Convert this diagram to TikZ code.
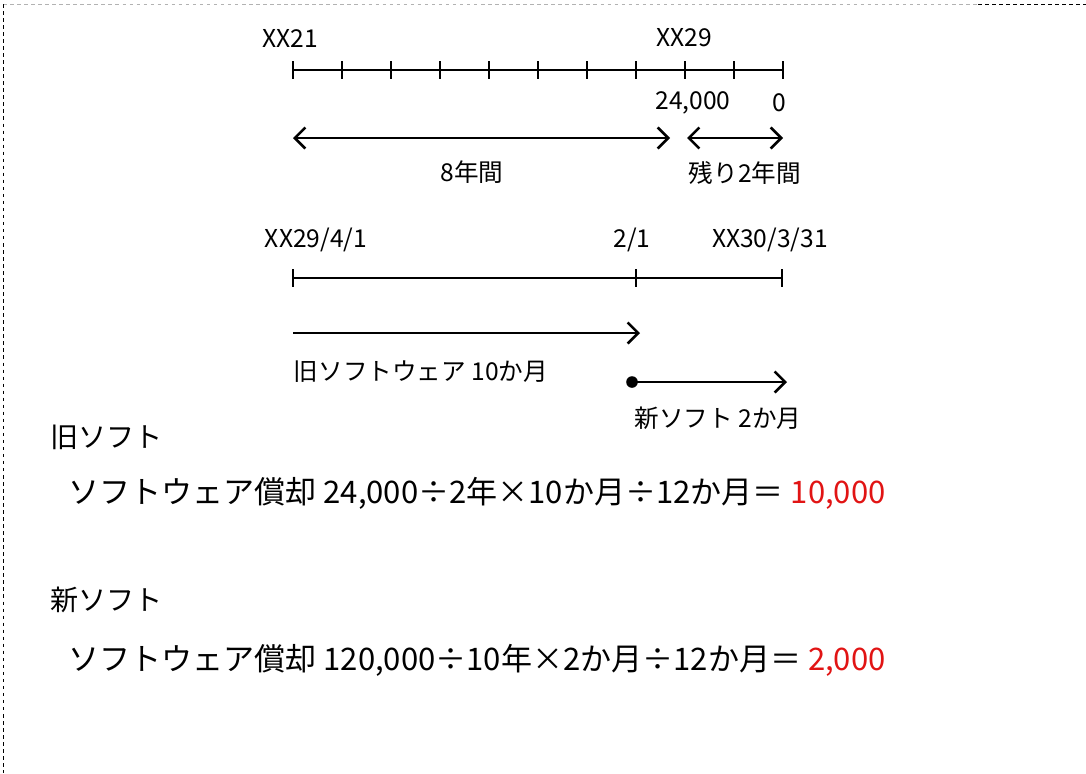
\documentclass[tikz,border=0pt]{standalone}
\usepackage{fontspec}
\setmainfont{Noto Sans CJK JP}
\usepackage{tikz}
\usetikzlibrary{
  arrows.meta,%
  positioning
}
\definecolor{ansred}{RGB}{225,20,20}
\tikzset{>={Straight Barb[length=9pt,width=18pt]}}
\tikzset{tl/.style={line width=2.2pt}}
\tikzset{lbl/.style={font=\fontsize{21}{24}\selectfont, inner sep=0pt}}
\tikzset{head/.style={font=\fontsize{24}{28}\selectfont, inner sep=0pt, anchor=west}}
\tikzset{calc/.style={font=\fontsize{26.5}{30}\selectfont, inner sep=0pt, anchor=west}}

\begin{document}
\begin{tikzpicture}[x=0.03cm, y=-0.03cm]
  \useasboundingbox (0,0) rectangle (1086,773);
  % page edge
  \draw[gray!60, dashed] (3,4) -- (978,4);
  \draw[dashed, thick] (978,4) -- (1086,4);
  \draw[dashed] (3,4) -- (3,773);
  % useful life: ten years
  \coordinate (s21) at (293,70);
  \coordinate (s31) at (783,70);
  \draw[tl] (s21) -- (s31);
  \foreach \i in {0,...,10}
    \draw[tl, shift={(293+\i*49,70)}] (0,-9) -- (0,9);
  \node[lbl] (xx21) at (290,38) {XX21};
  \node[lbl] (xx29) at (684,38) {XX29};
  \node[lbl] (bal) at (693,103) {24,000};
  \node[lbl] (zero) at (779,103) {0};
  \coordinate (p8a) at (293,138);
  \coordinate (p8b) at (670,138);
  \coordinate (p2a) at (687,138);
  \coordinate (p2b) at (783,138);
  \draw[tl, <->] (p8a) -- (p8b);
  \draw[tl, <->] (p2a) -- (p2b);
  \node[lbl] (yrs8) at (472,172) {8年間};
  \node[lbl] (yrs2) at (745,173) {残り2年間};
  % this fiscal year
  \coordinate (apr) at (293,278);
  \coordinate (feb) at (636,278);
  \coordinate (mar) at (782,278);
  \draw[tl] (apr) -- (mar);
  \foreach \x in {293,636,782}
    \draw[tl, shift={(\x,278)}] (0,-9) -- (0,9);
  \node[lbl] (dapr) at (316,240) {XX29/4/1};
  \node[lbl] (dfeb) at (632,240) {2/1};
  \node[lbl] (dmar) at (770,240) {XX30/3/31};
  \coordinate (olda) at (293,333);
  \coordinate (oldb) at (640,333);
  \draw[tl, ->] (olda) -- (oldb);
  \node[lbl] (oldsw) at (421,372) {旧ソフトウェア 10か月};
  \node[circle, fill=black, inner sep=3.5pt] (newa) at (632,382) {};
  \coordinate (newb) at (787,382);
  \draw[tl, ->] (newa.center) -- (newb);
  \node[lbl] (newsw) at (718,418) {新ソフト 2か月};
  % calculations
  \node[head] (oldh) at (50,437) {旧ソフト};
  \node[calc] (oldc) at (68,493) {ソフトウェア償却 24,000÷2年×10か月÷12か月＝ \textcolor{ansred}{10,000}};
  \node[head] (newh) at (50,600) {新ソフト};
  \node[calc] (newc) at (68,660) {ソフトウェア償却 120,000÷10年×2か月÷12か月＝ \textcolor{ansred}{2,000}};
\end{tikzpicture}
\end{document}
